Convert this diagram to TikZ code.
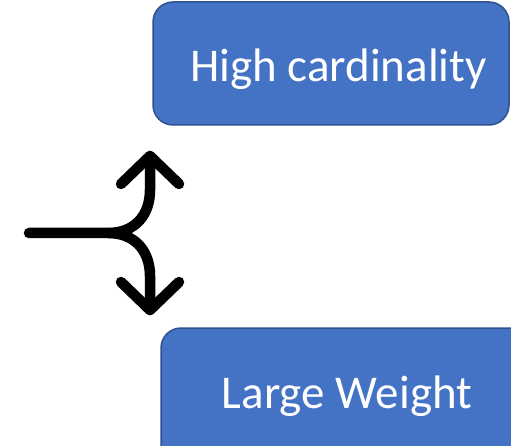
\documentclass[tikz,border=0pt]{standalone}
\usepackage{fontspec}
\setmainfont{Carlito}
\definecolor{boxfill}{HTML}{4472C4}
\definecolor{boxline}{HTML}{2F528F}
\begin{document}
\begin{tikzpicture}[x=1pt,y=-1pt,
  box/.style={draw=boxline,line width=1.5pt,fill=boxfill,rounded corners=20pt},
  lbl/.style={text=white,font=\fontsize{47}{50}\selectfont,inner sep=0pt,anchor=base},
  fork/.style={line width=10.5pt,line cap=round,line join=round}]
\useasboundingbox (0,0) rectangle (511,446);
\clip (0,0) rectangle (511,446);
\draw[box] (153,2) rectangle (509,125);
\node[lbl] (hc) at (338.5,82) {High cardinality};
\draw[box] (161,328) rectangle (530,480);
\node[lbl] (lw) at (347,408) {Large Weight};
% fork
\coordinate (s) at (29,233);
\coordinate (j) at (108,233);
\coordinate (u) at (150,156);
\coordinate (d) at (150,310);
\draw[fork] (s) -- (j) .. controls (135,233) and (150,215) .. (150,190) -- (u);
\draw[fork] (j) .. controls (135,233) and (150,251) .. (150,276) -- (d);
\draw[fork] (121,184) -- (u) -- (179,184);
\draw[fork] (121,282) -- (d) -- (179,282);
\end{tikzpicture}
\end{document}
